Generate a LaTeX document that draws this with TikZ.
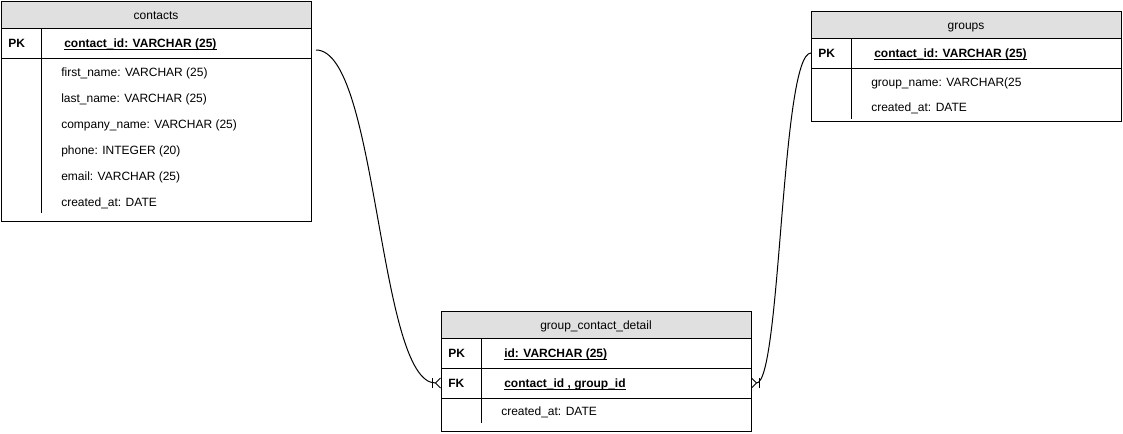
\documentclass[tikz,border=0pt]{standalone}
\usepackage{fontspec}
\setmainfont{Liberation Sans}
\usetikzlibrary{positioning, arrows.meta}
\definecolor{headfill}{HTML}{E0E0E0}
\newcommand{\keyline}[1]{\setbox0\hbox{#1}\rlap{\rule[-1.6pt]{\wd0}{0.6pt}}\box0}
\tikzset{
  px/.style={x=0.75pt, y=-0.75pt},
  tline/.style={draw, line width=0.75pt, outer sep=0pt},
  head/.style={
    tline,
    fill=headfill,
    anchor=north west,
    minimum width=232.5pt,  % 310px
    minimum height=20.25pt, % 27px
    inner sep=0pt,
    text height=8pt,
    text depth=0pt,
    font=\fontsize{9}{11}\selectfont,
  },
  keyrow/.style={
    tline,
    minimum width=232.5pt,
    minimum height=22.5pt,  % 30px
    inner sep=0pt,
  },
  keytag/.style={anchor=base west, inner sep=0pt, font=\fontsize{9}{11}\selectfont\bfseries},
  field/.style={anchor=base west, inner sep=0pt, font=\fontsize{9}{11}\selectfont},
  crow/.style={
    -{Bar[width=7.5pt, sep=1.2pt] Straight Barb[reversed, length=3.75pt, width=7.5pt]},
    line width=0.75pt,
  },
}

\begin{document}
\begin{tikzpicture}[px]
\useasboundingbox (0,0) rectangle (1123,433);

% contacts
\node[head] (contacts) at (1,1) {contacts};
\node[keyrow, below=0pt of contacts] (contacts-pk) {};
\draw[tline] (contacts-pk.south west) rectangle (311,221);
\draw[tline] (41,28) -- (41,213);
\node[keytag] at (8,47.5) {PK};
\node[keytag] (contacts-id) at (64,47.5) {\keyline{contact\_id: VARCHAR (25)}};
\foreach \y/\t in {76.5/{first\_name: VARCHAR (25)}, 102.5/{last\_name: VARCHAR (25)},
                   128.5/{company\_name: VARCHAR (25)}, 154.5/{phone: INTEGER (20)},
                   180.5/{email: VARCHAR (25)}, 206.5/{created\_at: DATE}}
  {\node[field] at (61,\y) {\t};}

% groups
\node[head] (groups) at (811,11) {groups};
\node[keyrow, below=0pt of groups] (groups-pk) {};
\draw[tline] (groups-pk.south west) rectangle (1121,121);
\draw[tline] (851,38) -- (851,119);
\node[keytag] at (818,57.5) {PK};
\node[keytag] (groups-id) at (874,57.5) {\keyline{contact\_id: VARCHAR (25)}};
\node[field] at (871,86.5) {group\_name: VARCHAR(25};
\node[field] at (871,111.5) {created\_at: DATE};

% group_contact_detail
\node[head] (gcd) at (441,311) {group\_contact\_detail};
\node[keyrow, below=0pt of gcd] (gcd-pk) {};
\node[keyrow, below=0pt of gcd-pk] (gcd-fk) {};
\draw[tline] (gcd-fk.south west) rectangle (751,431);
\draw[tline] (481,338) -- (481,423);
\node[keytag] at (448,357.5) {PK};
\node[keytag] at (504,357.5) {\keyline{id: VARCHAR (25)}};
\node[keytag] at (448,387.5) {FK};
\node[keytag] at (504,387.5) {\keyline{contact\_id , group\_id}};
\node[field] at (501,415.5) {created\_at: DATE};

% relations
\coordinate (contacts-out) at (316,50);
\draw[crow] (contacts-out) .. controls (378,50) and (378,383) .. (gcd-fk.west);
\draw[crow] (groups-pk.west) .. controls (781,53) and (781,383) .. (gcd-fk.east);

\end{tikzpicture}
\end{document}
